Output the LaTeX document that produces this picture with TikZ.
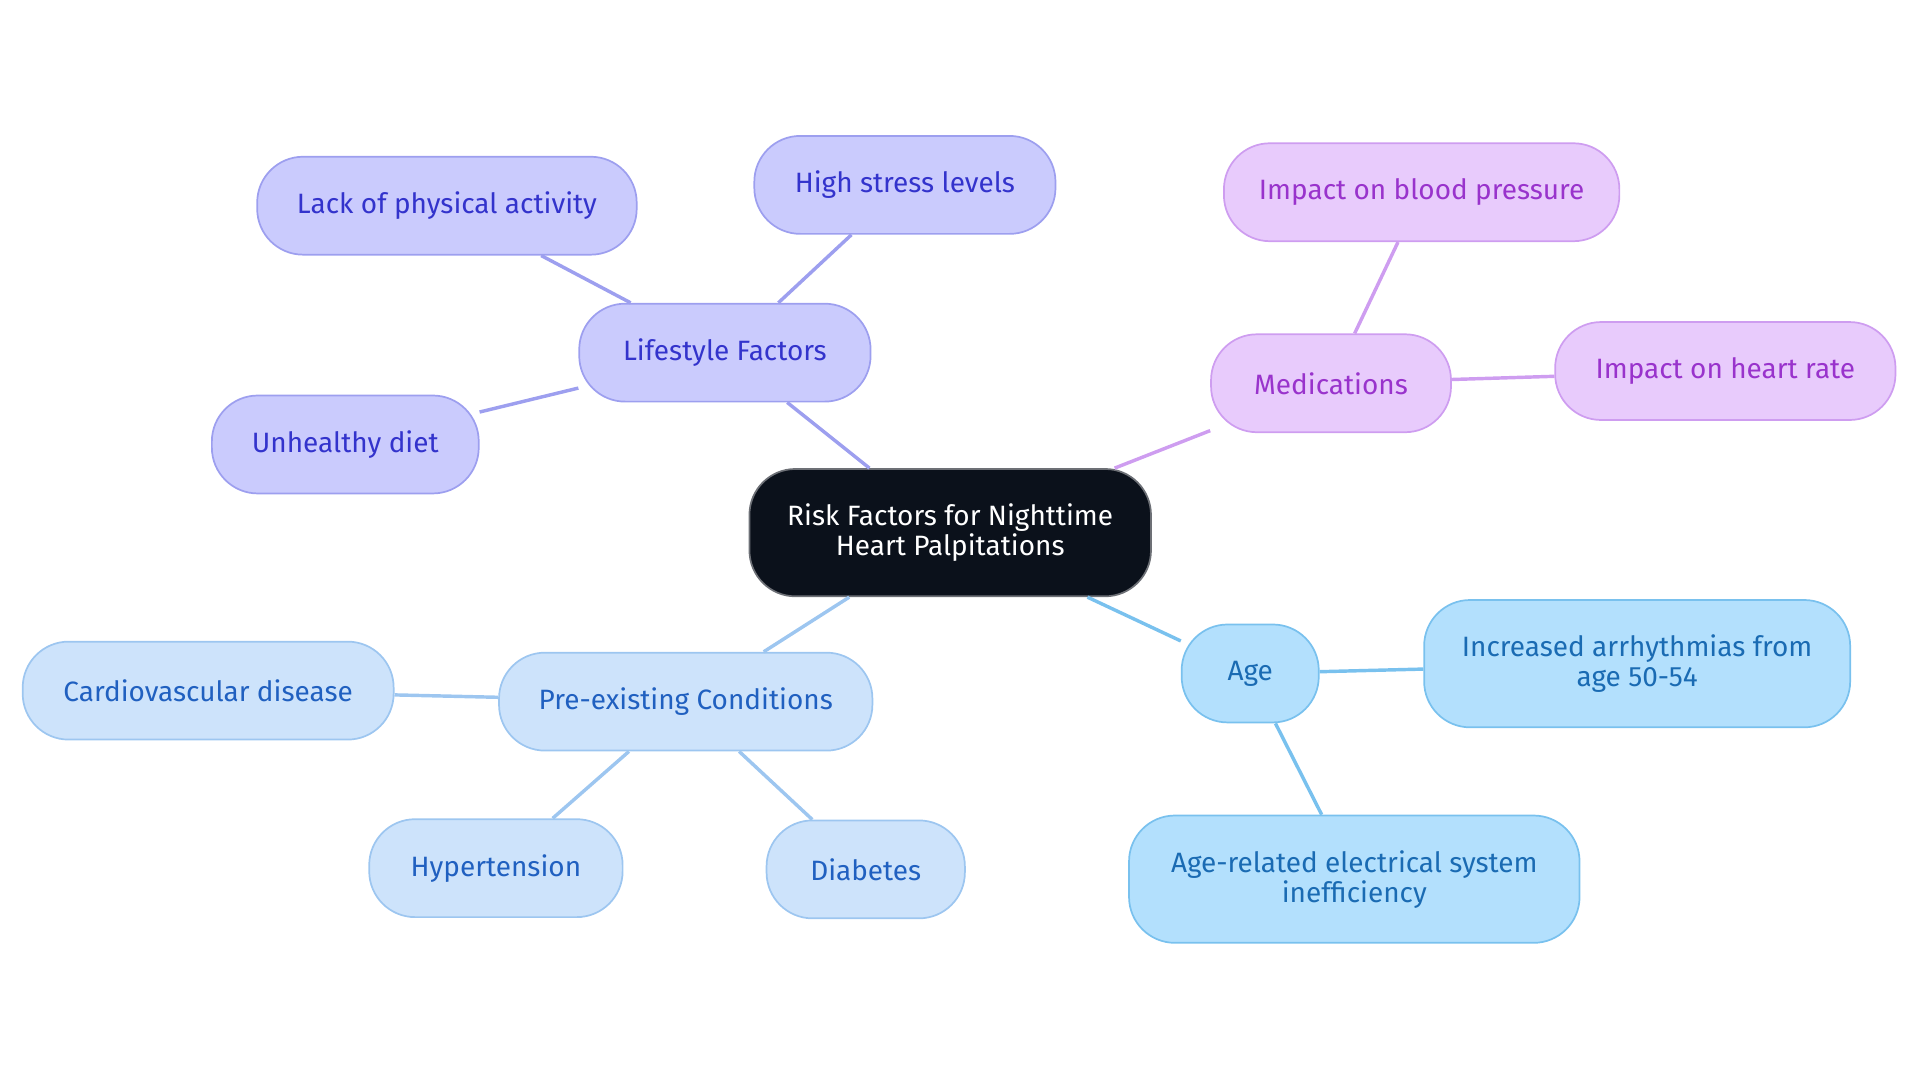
\documentclass[tikz,border=0pt]{standalone}
\usepackage{fontspec}
\setmainfont{Fira Sans}
\usepackage{tikz}
\definecolor{rootfill}{HTML}{0B111B}
\definecolor{lifefill}{HTML}{CACBFD}\definecolor{lifedraw}{HTML}{9D9FEF}\definecolor{lifetext}{HTML}{3333CC}
\definecolor{medfill}{HTML}{E8CBFC}\definecolor{meddraw}{HTML}{CE9DF0}\definecolor{medtext}{HTML}{9933CC}
\definecolor{agefill}{HTML}{B3E0FD}\definecolor{agedraw}{HTML}{79C1EE}\definecolor{agetext}{HTML}{1A6BB3}
\definecolor{prefill}{HTML}{CDE3FB}\definecolor{predraw}{HTML}{9DC6F0}\definecolor{pretext}{HTML}{2060C0}

\begin{document}
\begin{tikzpicture}[x=0.02cm,y=-0.02cm]
    \tikzstyle{box}=[rounded corners=0.75cm,align=center,font=\fontsize{13}{14}\selectfont,minimum height=1.6cm,line width=0.8pt]
    \tikzstyle{root}=[box,fill=rootfill,draw=rootfill!60,text=white,minimum width=6.56cm,minimum height=2.08cm]
    \tikzstyle{life}=[box,fill=lifefill,draw=lifedraw,text=lifetext]
    \tikzstyle{med}=[box,fill=medfill,draw=meddraw,text=medtext]
    \tikzstyle{age}=[box,fill=agefill,draw=agedraw,text=agetext]
    \tikzstyle{pre}=[box,fill=prefill,draw=predraw,text=pretext]
    \tikzstyle{edge}=[draw,line width=1.6pt]

    \useasboundingbox (0,0) rectangle (1568,884);

    \node[root] (r) at (776,435) {Risk Factors for Nighttime\\Heart Palpitations};

    \node[life,minimum width=4.76cm] (life) at (592,288) {Lifestyle Factors};
    \node[life,minimum width=6.2cm] (lack) at (365,168) {Lack of physical activity};
    \node[life,minimum width=4.92cm] (stress) at (739,151) {High stress levels};
    \node[life,minimum width=4.36cm] (diet) at (282,363) {Unhealthy diet};

    \node[med,minimum width=3.92cm] (med) at (1087,313) {Medications};
    \node[med,minimum width=6.46cm] (bp) at (1161,157) {Impact on blood pressure};
    \node[med,minimum width=5.56cm] (hr) at (1409,303) {Impact on heart rate};

    \node[age,minimum width=2.24cm] (age) at (1021,550) {Age};
    \node[age,minimum width=6.96cm,minimum height=2.08cm] (arr) at (1337,542) {Increased arrhythmias from\\age 50-54};
    \node[age,minimum width=7.36cm,minimum height=2.08cm] (elec) at (1106,718) {Age-related electrical system\\inefficiency};

    \node[pre,minimum width=6.1cm] (pre) at (560,573) {Pre-existing Conditions};
    \node[pre,minimum width=6.06cm] (cardio) at (170,564) {Cardiovascular disease};
    \node[pre,minimum width=4.14cm] (hyp) at (405,709) {Hypertension};
    \node[pre,minimum width=3.24cm] (diab) at (707,710) {Diabetes};

    \begin{scope}[on background layer/.style={}]
    \path[edge,lifedraw] (r) -- (life) (life) -- (lack) (life) -- (stress) (life) -- (diet);
    \path[edge,meddraw] (r) -- (med) (med) -- (bp) (med) -- (hr);
    \path[edge,agedraw] (r) -- (age) (age) -- (arr) (age) -- (elec);
    \path[edge,predraw] (r) -- (pre) (pre) -- (cardio) (pre) -- (hyp) (pre) -- (diab);
    \end{scope}
\end{tikzpicture}
\end{document}
